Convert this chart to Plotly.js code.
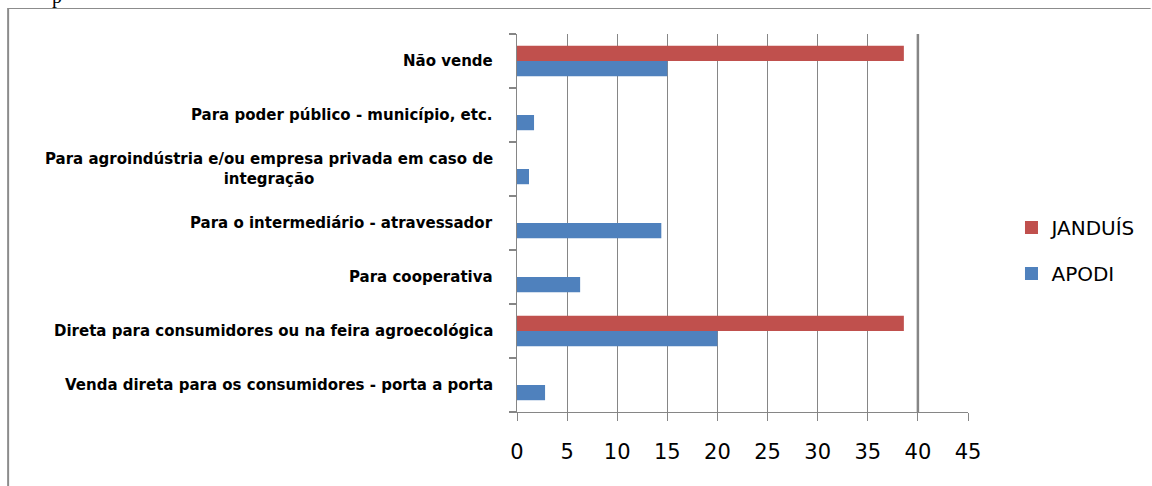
<!DOCTYPE html>
<html>
<head>
<meta charset="utf-8">
<script src="https://cdn.plot.ly/plotly-3.0.1.min.js"></script>
<style>
  html, body { margin: 0; padding: 0; background: #ffffff; }
  #chart { width: 1152px; height: 486px; }
</style>
</head>
<body>
<div id="chart"></div>
<script>
// Categories listed bottom-to-top as drawn
const categories = [
  "Venda direta para os consumidores - porta a porta",
  "Direta para consumidores ou na feira agroecológica",
  "Para cooperativa",
  "Para o intermediário - atravessador",
  "Para agroindústria e/ou empresa privada em caso de<br>integração",
  "Para poder público - município, etc.",
  "Não vende"
];
const apodiValues   = [2.8, 20, 6.3, 14.4, 1.2, 1.7, 15];
const janduisValues = [0, 38.6, 0, 0, 0, 0, 38.6];
const seriesNames = ["APODI", "JANDUÍS"];
const xTickValues = [0, 5, 10, 15, 20, 25, 30, 35, 40, 45];

const BLUE = "#4F81BD";
const RED = "#C0504D";
const GRID = "#868686";

const catIdx = categories.map((c, i) => i);

const traces = [
  {
    type: "bar", orientation: "h", name: seriesNames[0],
    x: apodiValues, y: catIdx, showlegend: false,
    marker: { color: BLUE }, hoverinfo: "x+name"
  },
  {
    type: "bar", orientation: "h", name: seriesNames[1],
    x: janduisValues, y: catIdx, showlegend: false,
    marker: { color: RED }, hoverinfo: "x+name"
  },
  // legend entries (square swatches), JANDUÍS listed first
  {
    type: "scatter", mode: "markers", name: seriesNames[1],
    x: [null], y: [null], legendgroup: "b", legendrank: 1,
    marker: { symbol: "square", size: 13, color: RED }
  },
  {
    type: "scatter", mode: "markers", name: seriesNames[0],
    x: [null], y: [null], legendgroup: "a", legendrank: 2,
    marker: { symbol: "square", size: 13, color: BLUE }
  }
];

const labelAnnotations = categories.map((c, i) => ({
  xref: "x", yref: "y", x: 0, y: i,
  xshift: -22, xanchor: "right", yanchor: "middle", align: "center",
  text: c, showarrow: false,
  font: { family: "DejaVu Sans, sans-serif", size: 15, color: "#000000", weight: "bold" }
}));

const layout = {
  width: 1152, height: 486,
  margin: { l: 517, r: 183, t: 34, b: 74, pad: 0 },
  paper_bgcolor: "#ffffff", plot_bgcolor: "#ffffff",
  barmode: "group", bargap: 0.436, bargroupgap: 0,
  showlegend: true,
  legend: {
    x: 1.094, xanchor: "left", y: 0.54, yanchor: "top",
    traceorder: "grouped", tracegroupgap: 17, itemwidth: 30,
    font: { family: "DejaVu Sans, sans-serif", size: 20, color: "#000000" },
    bgcolor: "rgba(0,0,0,0)"
  },
  xaxis: {
    range: [0, 45], tickvals: xTickValues, ticktext: xTickValues.map(String),
    showgrid: true, gridcolor: GRID, gridwidth: 1,
    zeroline: false, showline: true, linecolor: GRID, linewidth: 1,
    ticks: "outside", ticklen: 8, tickcolor: GRID, tickwidth: 1,
    ticklabelstandoff: 13,
    tickfont: { family: "DejaVu Sans, sans-serif", size: 21, color: "#000000" },
    fixedrange: true
  },
  yaxis: {
    type: "linear", range: [-0.5, 6.5],
    tickvals: [-0.5, 0.5, 1.5, 2.5, 3.5, 4.5, 5.5, 6.5],
    showticklabels: false,
    showgrid: false, zeroline: false,
    showline: true, linecolor: GRID, linewidth: 1,
    ticks: "outside", ticklen: 7, tickcolor: GRID, tickwidth: 2,
    fixedrange: true
  },
  annotations: labelAnnotations.concat([
    {
      xref: "paper", yref: "paper", x: (56 - 517) / 452, y: (412 + 4) / 378,
      xanchor: "center", yanchor: "middle", text: "p", showarrow: false,
      font: { family: "Liberation Serif, serif", size: 20, color: "#000000" }
    }
  ]),
  shapes: [
    { type: "line", xref: "x", yref: "paper", x0: 40, x1: 40, y0: 0, y1: 1,
      line: { color: GRID, width: 2.5 }, layer: "below" },
    { type: "line", xref: "paper", yref: "paper",
      x0: (7 - 517) / 452, x1: (1152 - 517) / 452, y0: (412 - 8.5) / 378, y1: (412 - 8.5) / 378,
      line: { color: "#8c8c8c", width: 1 } },
    { type: "line", xref: "paper", yref: "paper",
      x0: (7 - 517) / 452, x1: (7 - 517) / 452, y0: (412 - 8) / 378, y1: (412 - 490) / 378,
      line: { color: "#8c8c8c", width: 2 } }
  ]
};

Plotly.newPlot("chart", traces, layout, { displayModeBar: false, staticPlot: true });
</script>
</body>
</html>
